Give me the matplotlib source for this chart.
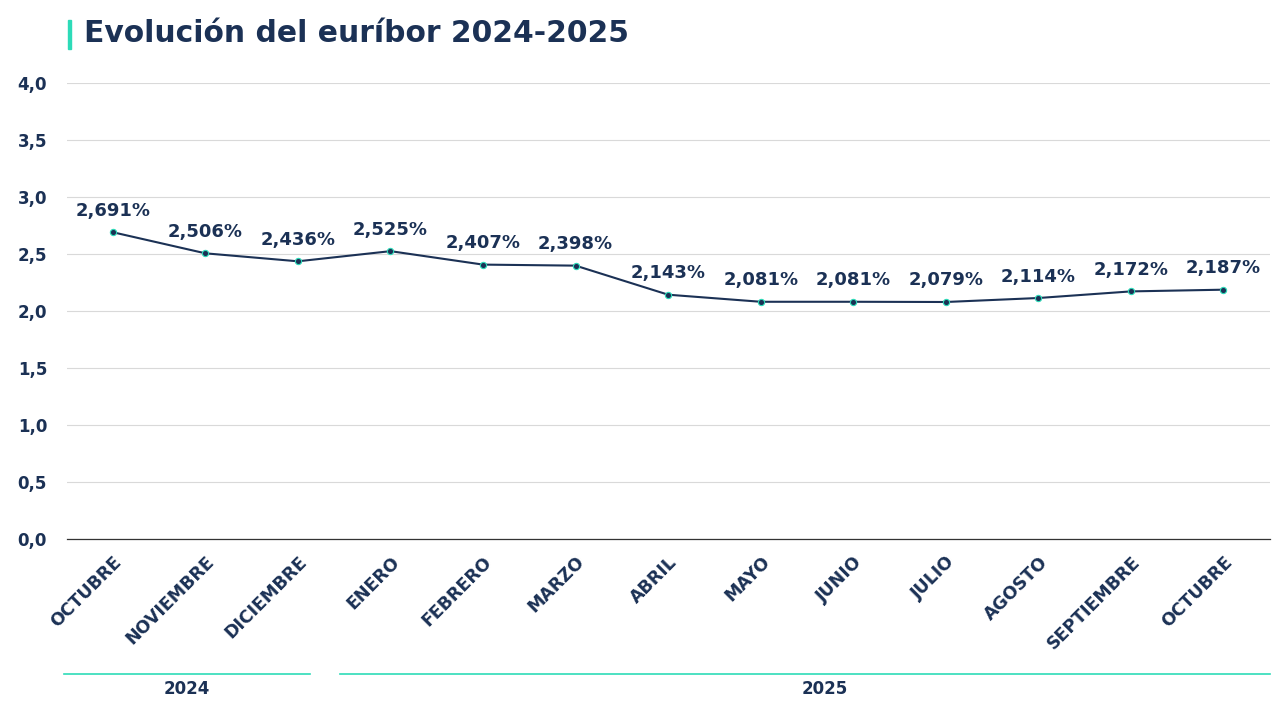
import matplotlib.pyplot as plt
from matplotlib.lines import Line2D

plt.rcParams['font.family'] = ['DejaVu Sans']

NAVY = '#1b3155'
TEAL = '#2ddbb8'

months = ['OCTUBRE', 'NOVIEMBRE', 'DICIEMBRE', 'ENERO', 'FEBRERO', 'MARZO',
          'ABRIL', 'MAYO', 'JUNIO', 'JULIO', 'AGOSTO', 'SEPTIEMBRE', 'OCTUBRE']
euribor = [2.691, 2.506, 2.436, 2.525, 2.407, 2.398,
           2.143, 2.081, 2.081, 2.079, 2.114, 2.172, 2.187]
years = ['2024', '2025']
yticks = [0.0, 0.5, 1.0, 1.5, 2.0, 2.5, 3.0, 3.5, 4.0]

fig = plt.figure(figsize=(12.8, 7.2), dpi=100)
ax = fig.add_axes([0.052, 0.2514, 0.94, 0.6333])

x = list(range(len(months)))
ax.plot(x, euribor, color=NAVY, lw=1.5, marker='o', ms=4.5,
        mfc=NAVY, mec=TEAL, mew=0.8, zorder=3)

for xi, v in zip(x, euribor):
    ax.annotate(f"{v:.3f}%".replace('.', ','), (xi, v), xytext=(0, 9),
                textcoords='offset points', ha='center', va='bottom',
                fontsize=13, fontweight='bold', color=NAVY)

ax.set_xlim(-0.5, len(months) - 0.5)
ax.set_ylim(0, 4)
ax.set_yticks(yticks)
ax.set_yticklabels([f"{t:.1f}".replace('.', ',') for t in yticks],
                   fontsize=12, fontweight='bold', color=NAVY)
ax.set_xticks(x)
ax.set_xticklabels(months, rotation=45, ha='right', rotation_mode='anchor',
                   fontsize=12.5, fontweight='bold', color=NAVY)
ax.tick_params(axis='y', length=0, pad=14)
ax.tick_params(axis='x', length=0, pad=10)

ax.grid(axis='y', color='#d9d9d9', lw=0.8)
ax.set_axisbelow(True)
for s in ['top', 'right', 'left']:
    ax.spines[s].set_visible(False)
ax.spines['bottom'].set_color('#333333')
ax.spines['bottom'].set_linewidth(0.9)

# year groups below the month labels (line extents / label spot in category units)
year_spans = [(-0.53, 2.13), (2.45, 12.5)]
year_label_x = [0.8, 7.69]
trans = ax.get_xaxis_transform()
for yr, (x0, x1), xl in zip(years, year_spans, year_label_x):
    ax.add_line(Line2D([x0, x1], [-0.296, -0.296], transform=trans,
                       color=TEAL, lw=1.2, clip_on=False))
    ax.text(xl, -0.33, yr, transform=trans,
            ha='center', va='center', fontsize=12, fontweight='bold', color=NAVY)

# title with accent bar
fig.patches.append(plt.Rectangle((0.053, 0.932), 0.0025, 0.04, transform=fig.transFigure,
                                 color=TEAL, zorder=5))
fig.text(0.066, 0.953, 'Evolución del euríbor 2024-2025', ha='left', va='center',
         fontsize=21.4, fontweight='bold', color=NAVY)

fig.savefig('out.png', dpi=100)
